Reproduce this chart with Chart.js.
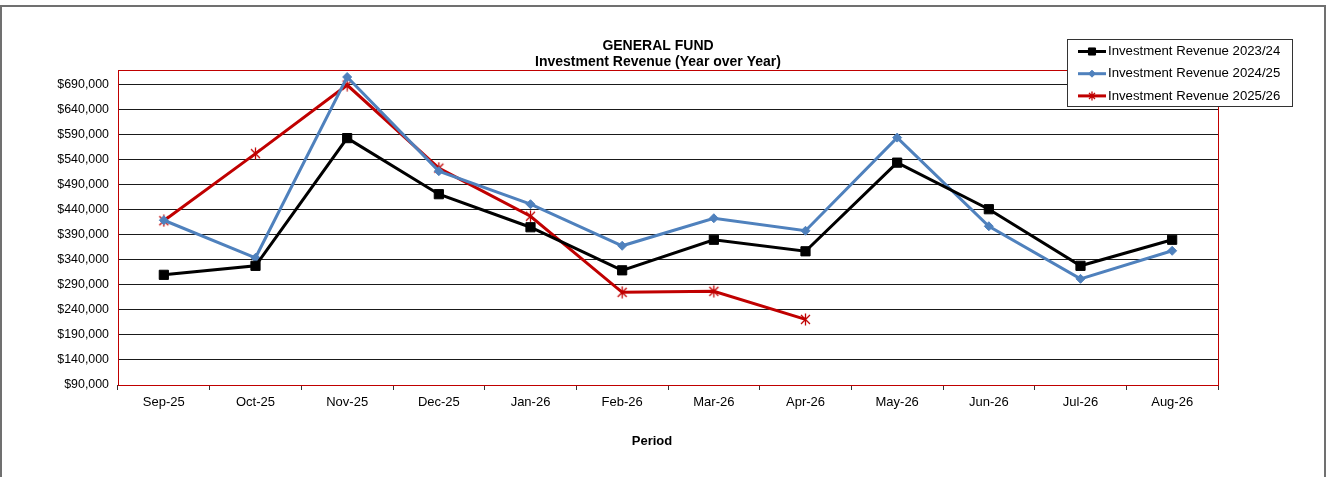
<!DOCTYPE html>
<html>
<head>
<meta charset="utf-8">
<script src="https://cdn.jsdelivr.net/npm/chart.js@4.4.1/dist/chart.umd.min.js"></script>
<style>
  html, body { margin: 0; padding: 0; background: #fff; overflow: hidden; }
  #wrap { position: relative; width: 1331px; height: 477px; }
  #frame { position: absolute; left: 0; top: 5px; width: 1326px; height: 540px; box-sizing: border-box; border: 2px solid #707070; pointer-events: none; }
</style>
</head>
<body>
<div id="wrap">
  <canvas id="revenue" width="1331" height="477"></canvas>
  <div id="frame"></div>
</div>
<script>
const periods = ['Sep-25', 'Oct-25', 'Nov-25', 'Dec-25', 'Jan-26', 'Feb-26', 'Mar-26', 'Apr-26', 'May-26', 'Jun-26', 'Jul-26', 'Aug-26'];
const rev2324 = [310000, 328000, 583000, 471000, 405000, 319000, 380000, 357000, 534000, 441000, 328000, 380000];
const rev2425 = [419000, 344000, 705000, 517000, 451000, 368000, 423000, 398000, 584000, 407000, 302000, 358000];
const rev2526 = [418000, 552000, 689000, 523000, 427000, 275000, 277000, 221000, null, null, null, null];
const seriesNames = ['Investment Revenue 2023/24', 'Investment Revenue 2024/25', 'Investment Revenue 2025/26'];
const yTicks = [90000, 140000, 190000, 240000, 290000, 340000, 390000, 440000, 490000, 540000, 590000, 640000, 690000];
const chartTitle = ['GENERAL FUND', 'Investment Revenue (Year over Year)'];
const xTitle = 'Period';

// excel style asterisk marker (X plus a vertical bar)
function asterisk(color, size) {
  const c = document.createElement('canvas');
  c.width = size; c.height = size;
  const g = c.getContext('2d');
  const m = size / 2, e = size - 2;
  g.strokeStyle = color;
  g.lineWidth = 1.3;
  g.beginPath();
  g.moveTo(2, 2); g.lineTo(e, e);
  g.moveTo(e, 2); g.lineTo(2, e);
  g.moveTo(m, 0.5); g.lineTo(m, size - 0.5);
  g.stroke();
  return c;
}

const legendMarkers = ['rect', 'rectRot', asterisk('#c00000', 10)];
const legendRadius = [5, 3.5, 5];

const decorations = {
  id: 'decorations',
  beforeDatasetsDraw(chart) {
    const { ctx, chartArea: a } = chart;
    ctx.save();
    ctx.strokeStyle = '#c00000';
    ctx.lineWidth = 1;
    ctx.strokeRect(Math.round(a.left) + 0.5, Math.round(a.top) + 0.5, Math.round(a.width), Math.round(a.height));
    ctx.restore();
  },
  afterDraw(chart) {
    const ctx = chart.ctx;
    ctx.save();
    ctx.fillStyle = '#000';
    ctx.textAlign = 'center';
    ctx.textBaseline = 'middle';
    ctx.font = 'bold 14px "Liberation Sans", Arial, sans-serif';
    ctx.fillText(chartTitle[0], 658, 46);
    ctx.fillText(chartTitle[1], 658, 62);
    ctx.font = 'bold 13px "Liberation Sans", Arial, sans-serif';
    ctx.fillText(xTitle, 652, 441);

    // legend box
    ctx.fillStyle = '#fff';
    ctx.fillRect(1067, 39, 225, 67);
    ctx.strokeStyle = '#333';
    ctx.lineWidth = 1;
    ctx.strokeRect(1067.5, 39.5, 225, 67);
    ctx.textAlign = 'left';
    ctx.font = '13.2px "Liberation Sans", Arial, sans-serif';
    chart.data.datasets.forEach((ds, i) => {
      const y = 51.5 + i * 22.2;
      ctx.strokeStyle = ds.borderColor;
      ctx.lineWidth = 3;
      ctx.beginPath();
      ctx.moveTo(1078, y);
      ctx.lineTo(1106, y);
      ctx.stroke();
      ctx.fillStyle = ds.pointBackgroundColor;
      ctx.strokeStyle = ds.pointBorderColor;
      ctx.lineWidth = 1;
      Chart.helpers.drawPoint(ctx, { pointStyle: legendMarkers[i], rotation: 0, radius: legendRadius[i], borderWidth: 1 }, 1092, y);
      ctx.fillStyle = '#000';
      ctx.fillText(ds.label, 1108, y);
    });
    ctx.restore();
  }
};

new Chart(document.getElementById('revenue'), {
  type: 'line',
  data: {
    labels: periods,
    datasets: [
      {
        label: seriesNames[0],
        data: rev2324,
        borderColor: '#000000',
        borderWidth: 3,
        pointStyle: 'rect',
        pointRadius: 6.5,
        pointBackgroundColor: '#000000',
        pointBorderColor: '#000000',
        pointBorderWidth: 1,
        tension: 0
      },
      {
        label: seriesNames[1],
        data: rev2425,
        borderColor: '#4f81bd',
        borderWidth: 3,
        pointStyle: 'rectRot',
        pointRadius: 4.5,
        pointBackgroundColor: '#4f81bd',
        pointBorderColor: '#4f81bd',
        pointBorderWidth: 1,
        tension: 0
      },
      {
        label: seriesNames[2],
        data: rev2526,
        borderColor: '#c00000',
        borderWidth: 3,
        pointStyle: asterisk('#c00000', 13),
        pointRadius: 6,
        pointBackgroundColor: '#c00000',
        pointBorderColor: '#c00000',
        pointBorderWidth: 1,
        tension: 0,
        spanGaps: false
      }
    ]
  },
  options: {
    responsive: false,
    animation: false,
    layout: { padding: { top: 70, right: 113, left: 0, bottom: 0 } },
    plugins: {
      legend: { display: false },
      title: { display: false },
      tooltip: { enabled: false }
    },
    scales: {
      x: {
        offset: true,
        afterFit: (scale) => { scale.height = 92; },
        border: { display: false },
        grid: { offset: true, drawOnChartArea: false, drawTicks: true, tickLength: 5, color: '#333' },
        ticks: { color: '#000', padding: 5, maxRotation: 0, autoSkip: false, font: { family: '"Liberation Sans", Arial, sans-serif', size: 13 } }
      },
      y: {
        min: 90000,
        max: 719000,
        afterFit: (scale) => { scale.width = 118; },
        afterBuildTicks: (scale) => { scale.ticks = yTicks.map(v => ({ value: v })); },
        border: { display: false },
        grid: { color: '#1a1a1a', drawTicks: false },
        ticks: {
          color: '#000',
          padding: 9,
          font: { family: '"Liberation Sans", Arial, sans-serif', size: 12.4 },
          callback: (v) => '$' + Number(v).toLocaleString('en-US')
        }
      }
    }
  },
  plugins: [decorations]
});
</script>
</body>
</html>
